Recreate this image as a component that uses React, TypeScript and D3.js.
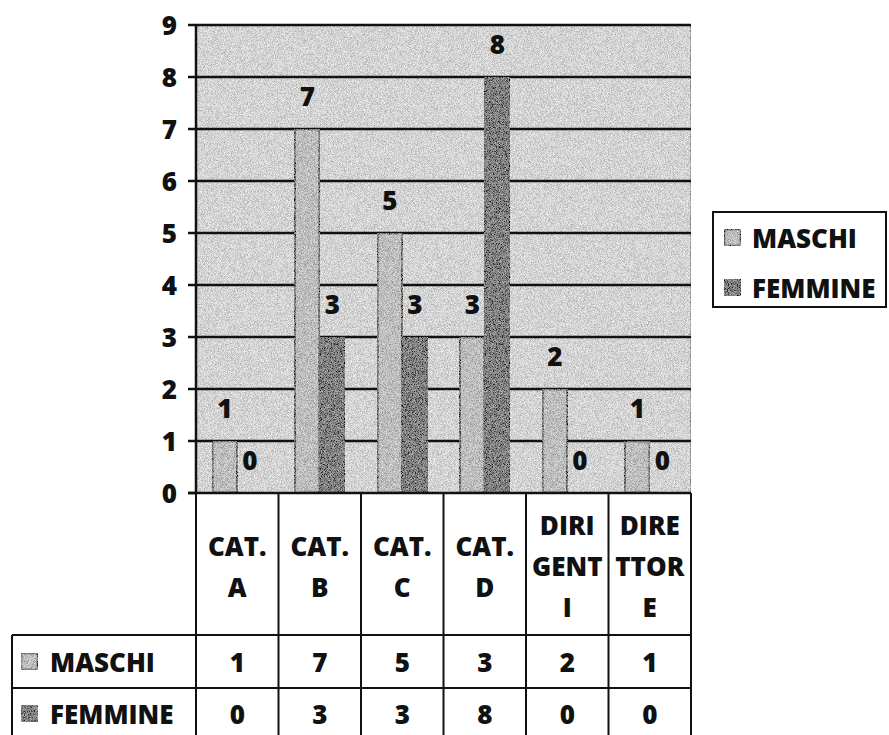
import React from "react";
import * as d3 from "d3";

const categories = ["CAT. A", "CAT. B", "CAT. C", "CAT. D", "DIRIGENTI", "DIRETTORE"];
const categoryLines = [["CAT.", "A"], ["CAT.", "B"], ["CAT.", "C"], ["CAT.", "D"], ["DIRI", "GENT", "I"], ["DIRE", "TTOR", "E"]];
const seriesNames = ["MASCHI", "FEMMINE"];
const maschi = [1, 7, 5, 3, 2, 1];
const femmine = [0, 3, 3, 8, 0, 0];
const yTicks = [0, 1, 2, 3, 4, 5, 6, 7, 8, 9];

const seriesValues = [maschi, femmine];
const seriesFill = ["#c0c0c0", "#363636"];
const FONT = "'Open Sans', sans-serif";

export default function App() {
  const W = 889, H = 735;
  const left = 196, right = 691, top = 25, bottom = 493;
  const y = d3.scaleLinear().domain([0, 9]).range([bottom, top]);
  const x0 = d3.scaleBand<string>().domain(categories).range([left, right]).padding(0);
  const x1 = d3.scaleBand<string>().domain(seriesNames).range([0, x0.bandwidth()]).paddingInner(0).paddingOuter(0.65);
  const tableLeft = 12;
  const rowLines = [635, 688, 741];
  const rowCenters = [662, 714];
  const fs = 26;
  const fw = 800;

  return (
    <svg width={W} height={H} style={{ position: "absolute", left: 0, top: 0, background: "#fff" }} fontFamily={FONT}>
      <defs>
        <filter id="grain" x="0" y="0" width="100%" height="100%">
          <feTurbulence type="fractalNoise" baseFrequency="1.3" numOctaves="1" seed="4" result="n" />
          <feColorMatrix in="n" type="matrix" values="2.6 0 0 0 -0.8  2.6 0 0 0 -0.8  2.6 0 0 0 -0.8  0 0 0 0 0.4" result="g" />
          <feComposite in="g" in2="SourceGraphic" operator="in" result="gc" />
          <feMerge>
            <feMergeNode in="SourceGraphic" />
            <feMergeNode in="gc" />
          </feMerge>
        </filter>
      </defs>

      {/* plot background */}
      <rect x={left} y={top} width={right - left} height={bottom - top} fill="#e2e2e2" stroke="#777" strokeWidth={1.5} filter="url(#grain)" />

      {/* gridlines */}
      {yTicks.map((t) => (
        <g key={"g" + t}>
          <line x1={left - 8} x2={t === 0 ? left : right} y1={y(t)} y2={y(t)} stroke="#111" strokeWidth={2.5} />
          <text x={177} y={y(t)} textAnchor="end" dominantBaseline="central" fontSize={fs} fontWeight={fw} fill="#111">{t}</text>
        </g>
      ))}

      {/* bars */}
      {categories.map((c, i) => (
        <g key={c} transform={`translate(${x0(c)},0)`}>
          {seriesNames.map((s, k) => {
            const v = seriesValues[k][i];
            const bx = x1(s)!;
            return (
              <g key={s}>
                {v > 0 && (
                  <rect x={bx} y={y(v)} width={x1.bandwidth()} height={y(0) - y(v)} fill={seriesFill[k]} stroke="#111" strokeWidth={2.5} filter="url(#grain)" />
                )}
                <text x={bx + x1.bandwidth() / 2} y={y(v) - 33} textAnchor="middle" dominantBaseline="central" fontSize={fs} fontWeight={fw} fill="#111">{v}</text>
              </g>
            );
          })}
        </g>
      ))}

      {/* left axis line and baseline */}
      <line x1={left} x2={left} y1={top} y2={bottom} stroke="#111" strokeWidth={2.5} />
      <line x1={left - 8} x2={right} y1={bottom} y2={bottom} stroke="#111" strokeWidth={2.5} />

      {/* data table */}
      {categories.map((c, i) => {
        const cx = x0(c)! + x0.bandwidth() / 2;
        const lines = categoryLines[i];
        const lh = 41;
        const start = 566 - ((lines.length - 1) * lh) / 2;
        return (
          <g key={"t" + c}>
            {lines.map((l, j) => (
              <text key={j} x={cx} y={start + j * lh} textAnchor="middle" dominantBaseline="central" fontSize={fs} fontWeight={fw} fill="#111">{l}</text>
            ))}
            {seriesValues.map((vals, k) => (
              <text key={k} x={cx} y={rowCenters[k]} textAnchor="middle" dominantBaseline="central" fontSize={fs} fontWeight={fw} fill="#111">{vals[i]}</text>
            ))}
          </g>
        );
      })}
      {[...categories.map((c) => x0(c)!), right].map((vx, i) => (
        <line key={"v" + i} x1={vx} x2={vx} y1={bottom} y2={H} stroke="#111" strokeWidth={2} />
      ))}
      <line x1={tableLeft} x2={tableLeft} y1={rowLines[0]} y2={H} stroke="#111" strokeWidth={2} />
      {rowLines.map((ry, i) => (
        <line key={"h" + i} x1={tableLeft} x2={right} y1={ry} y2={ry} stroke="#111" strokeWidth={2} />
      ))}
      {seriesNames.map((s, k) => (
        <g key={"tl" + s}>
          <rect x={21} y={rowCenters[k] - 9} width={17} height={17} fill={seriesFill[k]} stroke="#111" strokeWidth={2.5} filter="url(#grain)" />
          <text x={50} y={rowCenters[k]} dominantBaseline="central" fontSize={fs} fontWeight={fw} fill="#111">{s}</text>
        </g>
      ))}

      {/* legend */}
      <rect x={713} y={212} width={173} height={95} fill="#fff" stroke="#111" strokeWidth={2} />
      {seriesNames.map((s, k) => (
        <g key={"lg" + s}>
          <rect x={724} y={[238, 288][k] - 9} width={17} height={17} fill={seriesFill[k]} stroke="#111" strokeWidth={2.5} filter="url(#grain)" />
          <text x={752} y={[238, 288][k]} dominantBaseline="central" fontSize={fs} fontWeight={fw} fill="#111">{s}</text>
        </g>
      ))}
    </svg>
  );
}
